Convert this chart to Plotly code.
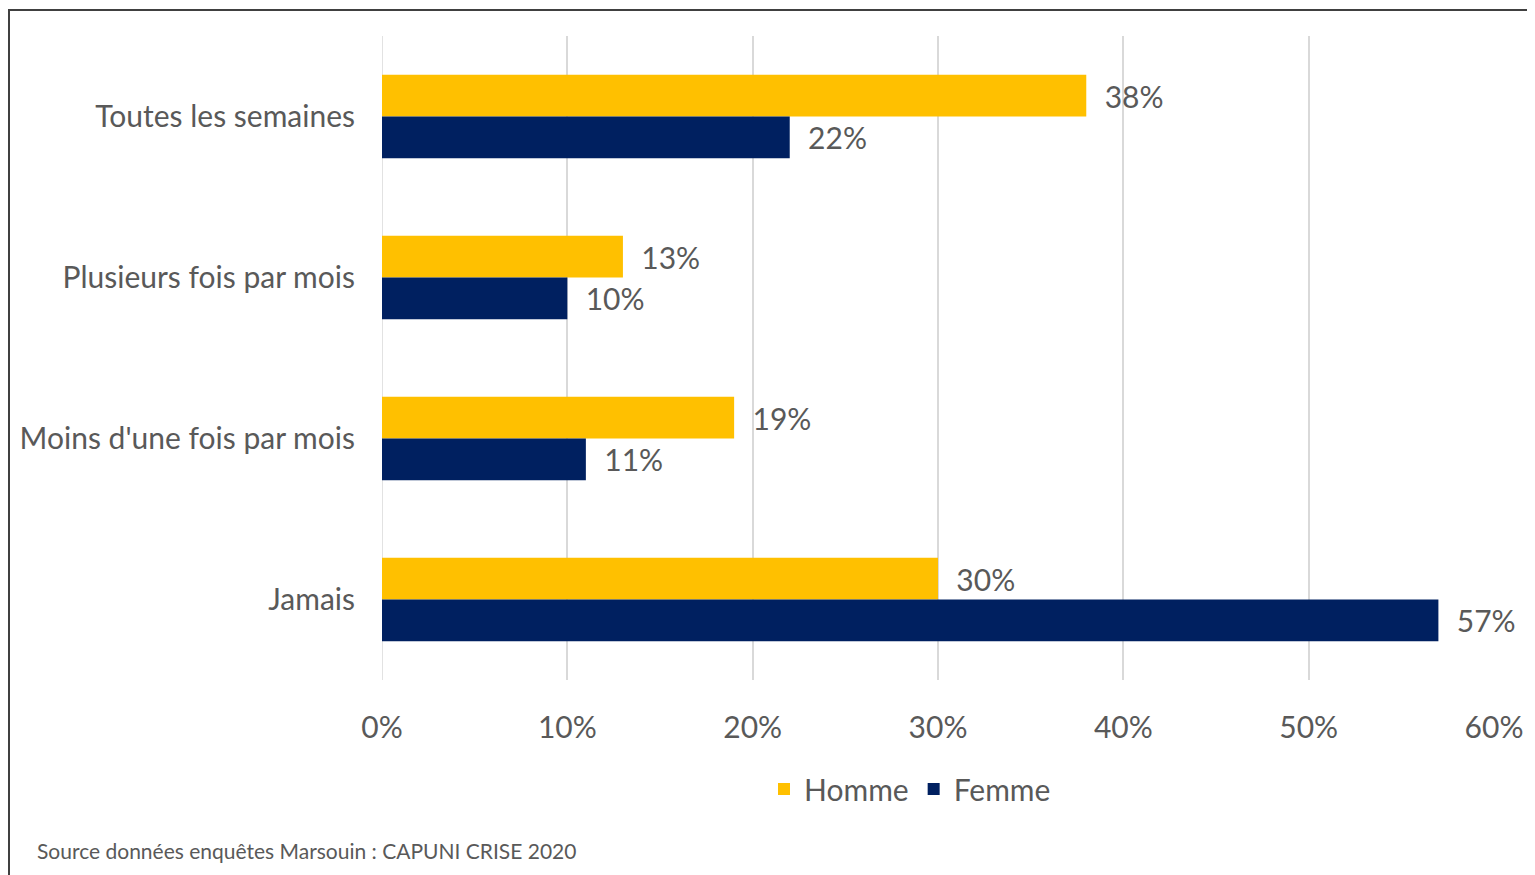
import plotly.graph_objects as go

categories = ["Toutes les semaines", "Plusieurs fois par mois", "Moins d'une fois par mois", "Jamais"]
homme = [38, 13, 19, 30]
femme = [22, 10, 11, 57]
series_names = ["Homme", "Femme"]
source_text = "Source données enquêtes Marsouin : CAPUNI CRISE 2020"

FONT = "Lato, Open Sans, sans-serif"
GRAY = "#595959"

OFF = 8  # page body margin
W, H = 1535 - OFF, 875 - OFF
ML, MR, MT, MB = 382 - OFF, 41, 36 - OFF, 203 - OFF
pw = W - ML - MR
ph = H - MT - MB

def px_x(p):
    return (p - OFF - ML) / pw

def px_y(p):
    return (H - MB - (p - OFF)) / ph

fig = go.Figure()
for name, vals, col in [(series_names[0], homme, "#FFC000"), (series_names[1], femme, "#002060")]:
    fig.add_trace(go.Bar(
        y=categories, x=vals, name=name, orientation="h",
        marker=dict(color=col, line=dict(width=0)),
        text=["\u00a0\u00a0" + f"{v}%" for v in vals],
        textposition="outside", constraintext="none", cliponaxis=False,
        textfont=dict(family=FONT, size=30, color=GRAY),
    ))

fig.update_layout(
    width=W, height=H,
    margin=dict(l=ML, r=MR, t=MT, b=MB),
    paper_bgcolor="white", plot_bgcolor="white",
    barmode="group", bargap=0.48, bargroupgap=0,
    font=dict(family=FONT, color=GRAY),
    legend=dict(orientation="h", x=px_x(910), y=px_y(789), xanchor="center", yanchor="middle",
                font=dict(family=FONT, size=30, color=GRAY), itemwidth=30, traceorder="normal"),
    xaxis=dict(range=[0, 60], dtick=10, ticksuffix="%", showgrid=True, gridcolor="#D9D9D9", gridwidth=1.5,
               zeroline=False, showline=False, tickfont=dict(family=FONT, size=30, color=GRAY),
               ticklabelstandoff=27, fixedrange=True),
    yaxis=dict(type="category", range=[3.5, -0.5], showgrid=False, zeroline=False, showline=False,
               tickfont=dict(family=FONT, size=30, color=GRAY), ticklabelstandoff=26, fixedrange=True),
    shapes=[
        dict(type="rect", xref="paper", yref="paper", x0=px_x(9), x1=px_x(1545), y0=px_y(885), y1=px_y(10),
             line=dict(color="#404040", width=2), fillcolor="rgba(0,0,0,0)", layer="below"),
        dict(type="line", xref="x", yref="paper", x0=0, x1=0, y0=0, y1=1,
             line=dict(color="#D9D9D9", width=1.5), layer="below"),
    ],
    annotations=[
        dict(text=source_text, xref="paper", yref="paper", x=px_x(35), y=px_y(850), xanchor="left",
             yanchor="middle", showarrow=False, font=dict(family=FONT, size=21, color=GRAY)),
    ],
)

fig.write_html("out.html")
